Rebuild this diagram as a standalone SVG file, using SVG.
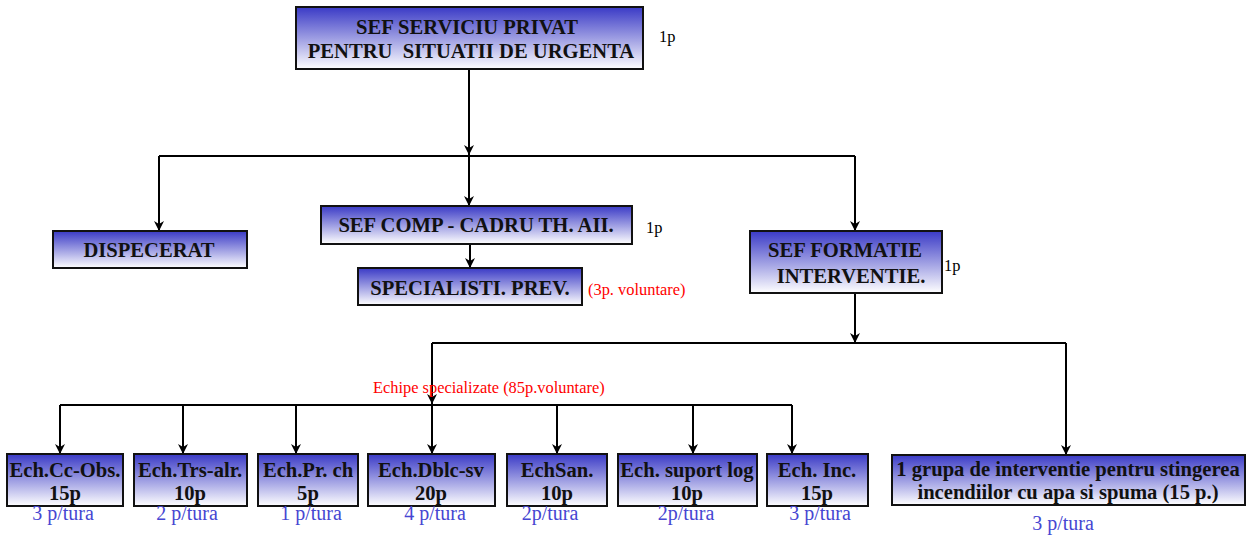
<svg xmlns="http://www.w3.org/2000/svg" width="1259" height="535" viewBox="0 0 1259 535">
<defs>
<linearGradient id="g" x1="0" y1="0" x2="0" y2="1">
<stop offset="0" stop-color="#3a3ac6"/>
<stop offset="0.5" stop-color="#9c9ce2"/>
<stop offset="1" stop-color="#ffffff"/>
</linearGradient>
<marker id="a" markerUnits="userSpaceOnUse" markerWidth="10" markerHeight="10" viewBox="0 0 10 10" refX="10" refY="5" orient="auto">
<path d="M0,0 L10,5 L0,10 L3,5 z" fill="#000"/>
</marker>
<style>
text{font-family:'Liberation Serif','Times New Roman',Times,'DejaVu Serif',serif}
.box{fill:url(#g);stroke:#111;stroke-width:2}
.t{font-weight:bold;font-size:20.6px;fill:#111;text-anchor:middle}
.p{font-size:16.4px;fill:#000}
.r{font-size:16.4px;fill:#ff0000}
.b{font-size:20px;fill:#4646d2;text-anchor:middle}
.c{fill:none;stroke:#000;stroke-width:2}
.ca{fill:none;stroke:#000;stroke-width:2;marker-end:url(#a)}
</style>
</defs>
<g id="connectors">
<path class="ca" d="M469,69 V155"/>
<path class="c" d="M159,156 H855"/>
<path class="ca" d="M159,156 V231"/>
<path class="ca" d="M469,156 V206"/>
<path class="ca" d="M855,156 V231"/>
<path class="ca" d="M470,244 V268"/>
<path class="ca" d="M855,293 V343"/>
<path class="c" d="M432,343 H1066"/>
<path class="ca" d="M1066,343 V455"/>
<path class="ca" d="M432,343 V404"/>
<path class="c" d="M60,405 H792"/>
<path class="ca" d="M432,405 V454"/>
<path class="ca" d="M60,405 V454"/>
<path class="ca" d="M183,405 V454"/>
<path class="ca" d="M296,405 V454"/>
<path class="ca" d="M557,405 V454"/>
<path class="ca" d="M693,405 V454"/>
<path class="ca" d="M792,405 V454"/>
</g>
<g id="sef-serviciu">
<rect class="box" x="296" y="7" width="347" height="62"/>
<text class="t" x="467" y="34">SEF SERVICIU PRIVAT</text>
<text class="t" x="471" y="58" xml:space="preserve">PENTRU  SITUATII DE URGENTA</text>
<text class="p" x="659" y="42">1p</text>
</g>
<g id="dispecerat">
<rect class="box" x="53" y="231" width="194" height="37"/>
<text class="t" x="149" y="257">DISPECERAT</text>
</g>
<g id="sef-comp">
<rect class="box" x="321" y="206" width="311" height="38"/>
<text class="t" x="476" y="232">SEF COMP - CADRU TH. AII.</text>
<text class="p" x="646" y="233">1p</text>
</g>
<g id="specialisti">
<rect class="box" x="358" y="268" width="224" height="37"/>
<text class="t" x="470" y="295">SPECIALISTI. PREV.</text>
<text class="r" x="588" y="295">(3p. voluntare)</text>
</g>
<g id="sef-formatie">
<rect class="box" x="750" y="231" width="192" height="62"/>
<text class="t" x="845" y="257">SEF FORMATIE</text>
<text class="t" x="851" y="283">INTERVENTIE.</text>
<text class="p" x="944" y="271">1p</text>
</g>
<text class="r" x="373" y="393">Echipe specializate (85p.voluntare)</text>
<g id="ech-cc-obs">
<rect class="box" x="7" y="454" width="116" height="52"/>
<text class="t" x="65" y="477">Ech.Cc-Obs.</text>
<text class="t" x="65" y="500">15p</text>
<text class="b" x="63" y="520">3 p/tura</text>
</g>
<g id="ech-trs-alr">
<rect class="box" x="134" y="454" width="113" height="52"/>
<text class="t" x="190" y="477">Ech.Trs-alr.</text>
<text class="t" x="190" y="500">10p</text>
<text class="b" x="187" y="520">2 p/tura</text>
</g>
<g id="ech-pr-ch">
<rect class="box" x="258" y="454" width="100" height="52"/>
<text class="t" x="308" y="477">Ech.Pr. ch</text>
<text class="t" x="308" y="500">5p</text>
<text class="b" x="311" y="520">1 p/tura</text>
</g>
<g id="ech-dblc-sv">
<rect class="box" x="368" y="454" width="127" height="52"/>
<text class="t" x="431" y="477">Ech.Dblc-sv</text>
<text class="t" x="431" y="500">20p</text>
<text class="b" x="435" y="520">4 p/tura</text>
</g>
<g id="ech-san">
<rect class="box" x="507" y="454" width="100" height="52"/>
<text class="t" x="557" y="477">EchSan.</text>
<text class="t" x="557" y="500">10p</text>
<text class="b" x="550" y="520">2p/tura</text>
</g>
<g id="ech-suport-log">
<rect class="box" x="618" y="454" width="139" height="52"/>
<text class="t" x="687" y="477">Ech. suport log</text>
<text class="t" x="687" y="500">10p</text>
<text class="b" x="686" y="520">2p/tura</text>
</g>
<g id="ech-inc">
<rect class="box" x="767" y="454" width="101" height="52"/>
<text class="t" x="817" y="477">Ech. Inc.</text>
<text class="t" x="817" y="500">15p</text>
<text class="b" x="820" y="520">3 p/tura</text>
</g>
<g id="grupa-interventie">
<rect class="box" x="892" y="455" width="353" height="50"/>
<text class="t" x="1068" y="476">1 grupa de interventie pentru stingerea</text>
<text class="t" x="1068" y="499">incendiilor cu apa si spuma (15 p.)</text>
<text class="b" x="1063" y="530">3 p/tura</text>
</g>
</svg>
